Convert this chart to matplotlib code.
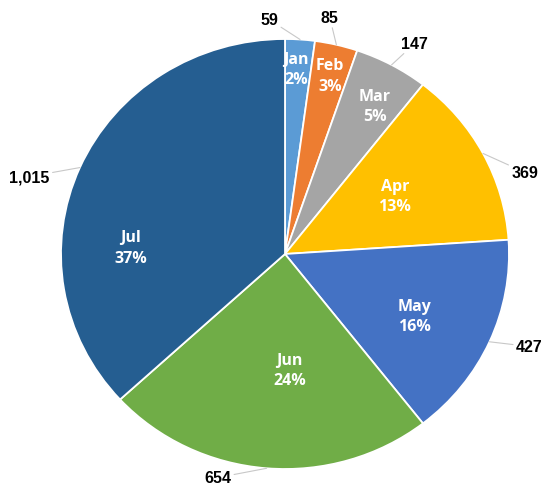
import numpy as np
import matplotlib
matplotlib.use("Agg")
import matplotlib.pyplot as plt

# monthly totals
months = ["Jan", "Feb", "Mar", "Apr", "May", "Jun", "Jul"]
values = [59, 85, 147, 369, 427, 654, 1015]
shares = [2, 3, 5, 13, 16, 24, 37]
colors = ["#5B9BD5", "#ED7D31", "#A5A5A5", "#FFC000", "#4472C4", "#70AD47", "#255E91"]

# label placement (axes units, pie radius = 1)
pct_pos = [(0.05, 0.86), (0.20, 0.83), (0.40, 0.69), (0.49, 0.27),
           (0.58, -0.29), (0.02, -0.54), (-0.69, 0.03)]
val_pos = [(-0.07, 1.09), (0.20, 1.10), (0.58, 0.98), (1.07, 0.38),
           (1.09, -0.43), (-0.30, -1.04), (-1.14, 0.36)]

fig = plt.figure(figsize=(5.5, 4.89), dpi=100)
ax = fig.add_axes([61 / 550, 19 / 489, 448 / 550, 430 / 489])

wedges, _ = ax.pie(values, colors=colors, startangle=90, counterclock=False,
                   radius=1, wedgeprops=dict(edgecolor="white", linewidth=1.3))
ax.set_aspect("auto")
ax.set_xlim(-1, 1)
ax.set_ylim(-1, 1)
ax.axis("off")

for w, m, s, pp, vp, v in zip(wedges, months, shares, pct_pos, val_pos, values):
    ax.text(pp[0], pp[1], f"{m}\n{s}%", ha="center", va="center",
            color="white", fontsize=11.5, fontweight="bold", family="Open Sans",
            linespacing=1.35)
    mid = np.deg2rad((w.theta1 + w.theta2) / 2)
    edge = (np.cos(mid), np.sin(mid))
    ax.annotate(f"{v:,}", xy=edge, xytext=vp, ha="center", va="center",
                fontsize=11.5, fontweight="bold", family="Liberation Sans",
                annotation_clip=False,
                arrowprops=dict(arrowstyle="-", color="#C8C8C8", lw=0.8,
                                shrinkA=0, shrinkB=0))

fig.savefig("out.png", dpi=100)
